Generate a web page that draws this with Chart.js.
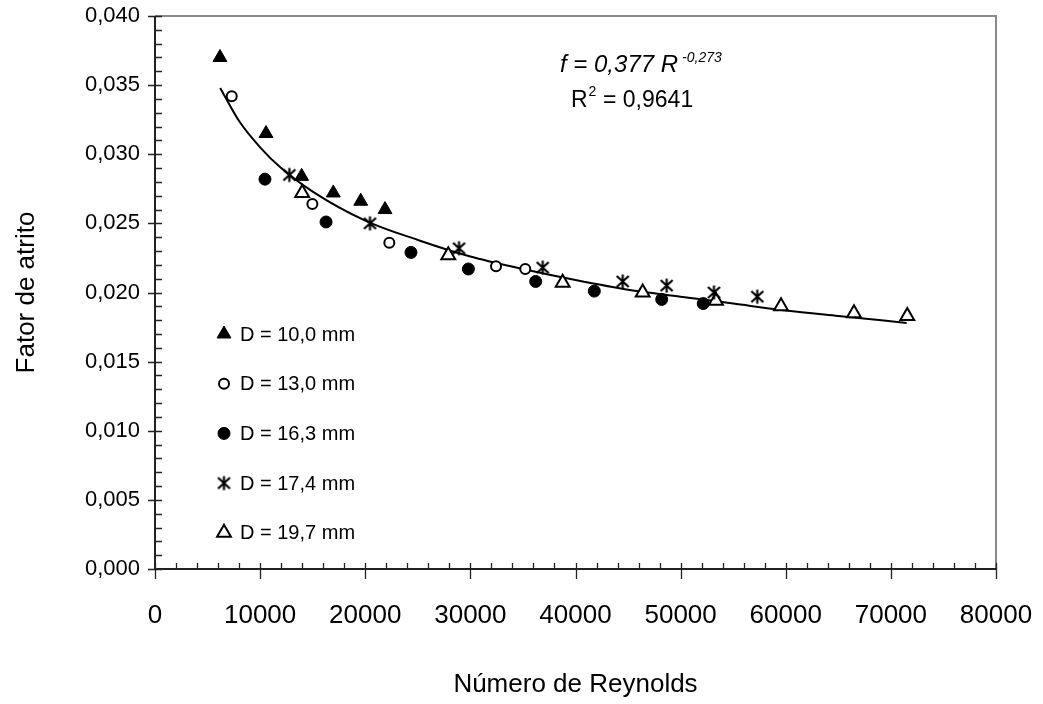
<!DOCTYPE html>
<html>
<head>
<meta charset="utf-8">
<script src="https://cdn.jsdelivr.net/npm/chart.js@4.4.0/dist/chart.umd.min.js"></script>
<style>
  html, body { margin: 0; padding: 0; background: #fff; }
</style>
</head>
<body>
<canvas id="chart" width="1043" height="704"></canvas>
<script>
// D = 10,0 mm (filled triangles)
const re10 = [6180, 10560, 13950, 16960, 19570, 21880];
const f10 = [0.0370, 0.0315, 0.0284, 0.0272, 0.0266, 0.0260];
// D = 13,0 mm (open circles)
const re13 = [7300, 14970, 22290, 32440, 35220];
const f13 = [0.0342, 0.0264, 0.0236, 0.0219, 0.0217];
// D = 16,3 mm (filled circles)
const re163 = [10460, 16270, 24350, 29810, 36210, 41790, 48200, 52150];
const f163 = [0.0282, 0.0251, 0.0229, 0.0217, 0.0208, 0.0201, 0.0195, 0.0192];
// D = 17,4 mm (asterisks)
const re174 = [12780, 20450, 28920, 36880, 44490, 48670, 53170, 57290];
const f174 = [0.0285, 0.0250, 0.0232, 0.0218, 0.0208, 0.0205, 0.0200, 0.0197];
// D = 19,7 mm (open triangles)
const re197 = [14000, 27900, 38780, 46390, 53360, 59550, 66490, 71560];
const f197 = [0.0272, 0.0227, 0.0207, 0.0200, 0.0194, 0.0190, 0.0185, 0.0183];
// power trend line
const trendRe = [6200, 8000, 10000, 12000, 15000, 20000, 25000, 30000, 35000, 40000, 45000, 50000, 55000, 60000, 65000, 71500];
const trendF = [0.0348, 0.0324, 0.0305, 0.0290, 0.0273, 0.0252, 0.0238, 0.0226, 0.0217, 0.0209, 0.0202, 0.0197, 0.0192, 0.0187, 0.0183, 0.0178];

const seriesLabels = ['D = 10,0 mm', 'D = 13,0 mm', 'D = 16,3 mm', 'D = 17,4 mm', 'D = 19,7 mm'];
const xTicksMax = 80000;
const yTicksMax = 0.04;

const FONT = '"Liberation Sans", Arial, Helvetica, sans-serif';

function pairs(xs, ys) {
  return xs.map((x, i) => ({ x: x, y: ys[i] }));
}

function makeStar() {
  const c = document.createElement('canvas');
  c.width = 15; c.height = 17;
  const g = c.getContext('2d');
  g.strokeStyle = '#000';
  g.lineWidth = 2.2;
  g.beginPath();
  g.moveTo(7.5, 1.5); g.lineTo(7.5, 15.5);
  g.moveTo(1.5, 3); g.lineTo(13.5, 14);
  g.moveTo(13.5, 3); g.lineTo(1.5, 14);
  g.stroke();
  return c;
}
const star = makeStar();

const frame = {
  id: 'frame',
  afterDraw(chart) {
    const ctx = chart.ctx, a = chart.chartArea;
    const xs = chart.scales.x, ys = chart.scales.y;
    ctx.save();

    // top and right border
    ctx.strokeStyle = '#8a8a8a';
    ctx.lineWidth = 2;
    ctx.beginPath();
    ctx.moveTo(a.left, a.top);
    ctx.lineTo(a.right, a.top);
    ctx.lineTo(a.right, a.bottom);
    ctx.stroke();

    // axes
    ctx.strokeStyle = '#222';
    ctx.lineWidth = 2;
    ctx.beginPath();
    ctx.moveTo(a.left, a.top);
    ctx.lineTo(a.left, a.bottom);
    ctx.lineTo(a.right, a.bottom);
    ctx.stroke();

    // tick marks
    ctx.lineWidth = 1.3;
    ctx.beginPath();
    for (let i = 0; i <= 40; i++) {
      const py = Math.round(ys.getPixelForValue(i / 1000)) + 0.5;
      ctx.moveTo(i % 5 === 0 ? a.left - 7 : a.left, py);
      ctx.lineTo(a.left + 7, py);
      const px = Math.round(xs.getPixelForValue(i * 2000)) + 0.5;
      ctx.moveTo(px, a.bottom - 6);
      ctx.lineTo(px, i % 5 === 0 ? a.bottom + 10 : a.bottom);
    }
    ctx.stroke();

    // equation
    ctx.fillStyle = '#000';
    ctx.textBaseline = 'alphabetic';
    ctx.textAlign = 'left';
    ctx.font = 'italic 24px ' + FONT;
    const eq = 'f = 0,377 R';
    ctx.fillText(eq, 560, 72);
    const w1 = ctx.measureText(eq).width;
    ctx.font = 'italic 14px ' + FONT;
    ctx.fillText('-0,273', 560 + w1 + 4, 62);

    ctx.font = '23px ' + FONT;
    ctx.fillText('R', 571, 107);
    const wr = ctx.measureText('R').width;
    ctx.font = '14px ' + FONT;
    ctx.fillText('2', 571 + wr + 1, 96);
    ctx.font = '23px ' + FONT;
    ctx.fillText(' = 0,9641', 571 + wr + 9, 107);

    // legend inside the plot
    const sets = chart.data.datasets.filter(d => d.inLegend);
    sets.forEach((ds, i) => {
      const cy = a.top + 318 + i * 49.7;
      const cx = a.left + 69;
      ctx.fillStyle = ds.backgroundColor;
      ctx.strokeStyle = ds.borderColor;
      ctx.lineWidth = ds.borderWidth;
      Chart.helpers.drawPoint(ctx, {
        pointStyle: ds.pointStyle, radius: ds.pointRadius,
        borderWidth: ds.borderWidth, rotation: 0
      }, cx, cy);
      ctx.fillStyle = '#000';
      ctx.font = '20px ' + FONT;
      ctx.textBaseline = 'middle';
      ctx.fillText(ds.label, a.left + 85, cy + 1);
    });
    ctx.restore();
  }
};

new Chart(document.getElementById('chart'), {
  type: 'scatter',
  data: {
    datasets: [
      { label: seriesLabels[0], data: pairs(re10, f10), inLegend: true, pointStyle: 'triangle', pointRadius: 8, backgroundColor: '#000', borderColor: '#000', borderWidth: 1 },
      { label: seriesLabels[1], data: pairs(re13, f13), inLegend: true, pointStyle: 'circle', pointRadius: 5, backgroundColor: '#fff', borderColor: '#000', borderWidth: 2 },
      { label: seriesLabels[2], data: pairs(re163, f163), inLegend: true, pointStyle: 'circle', pointRadius: 6, backgroundColor: '#000', borderColor: '#000', borderWidth: 1 },
      { label: seriesLabels[3], data: pairs(re174, f174), inLegend: true, pointStyle: star, pointRadius: 7, backgroundColor: '#000', borderColor: '#000', borderWidth: 1 },
      { label: seriesLabels[4], data: pairs(re197, f197), inLegend: true, pointStyle: 'triangle', pointRadius: 8, backgroundColor: '#fff', borderColor: '#000', borderWidth: 2 },
      { label: 'trend', type: 'line', data: pairs(trendRe, trendF), showLine: true, borderColor: '#000', borderWidth: 2, pointRadius: 0, fill: false, cubicInterpolationMode: 'monotone' }
    ]
  },
  options: {
    responsive: false,
    animation: false,
    layout: { padding: { left: 0, right: 47, top: 16, bottom: 0 } },
    plugins: { legend: { display: false }, tooltip: { enabled: false } },
    scales: {
      x: {
        type: 'linear', min: 0, max: xTicksMax,
        border: { display: false },
        grid: { display: false, drawTicks: true, tickLength: 10 },
        ticks: { stepSize: 10000, color: '#000', font: { family: FONT, size: 26 }, padding: 21, maxRotation: 0, callback: v => String(v) },
        title: { display: true, text: 'Número de Reynolds', color: '#000', font: { family: FONT, size: 26 }, padding: { top: 0, bottom: 4 } },
        afterFit: s => { s.height = 135; s.paddingLeft = 0; s.paddingRight = 0; }
      },
      y: {
        type: 'linear', min: 0, max: yTicksMax,
        border: { display: false },
        grid: { display: false, drawTicks: true, tickLength: 8 },
        ticks: { stepSize: 0.005, color: '#000', font: { family: FONT, size: 22 }, padding: 7, callback: v => v.toFixed(3).replace('.', ',') },
        title: { display: true, text: 'Fator de atrito', color: '#000', font: { family: FONT, size: 26 }, padding: { top: 11, bottom: 0 } },
        afterFit: s => { s.width = 155; s.paddingTop = 0; s.paddingBottom = 0; }
      }
    }
  },
  plugins: [frame]
});
</script>
</body>
</html>
